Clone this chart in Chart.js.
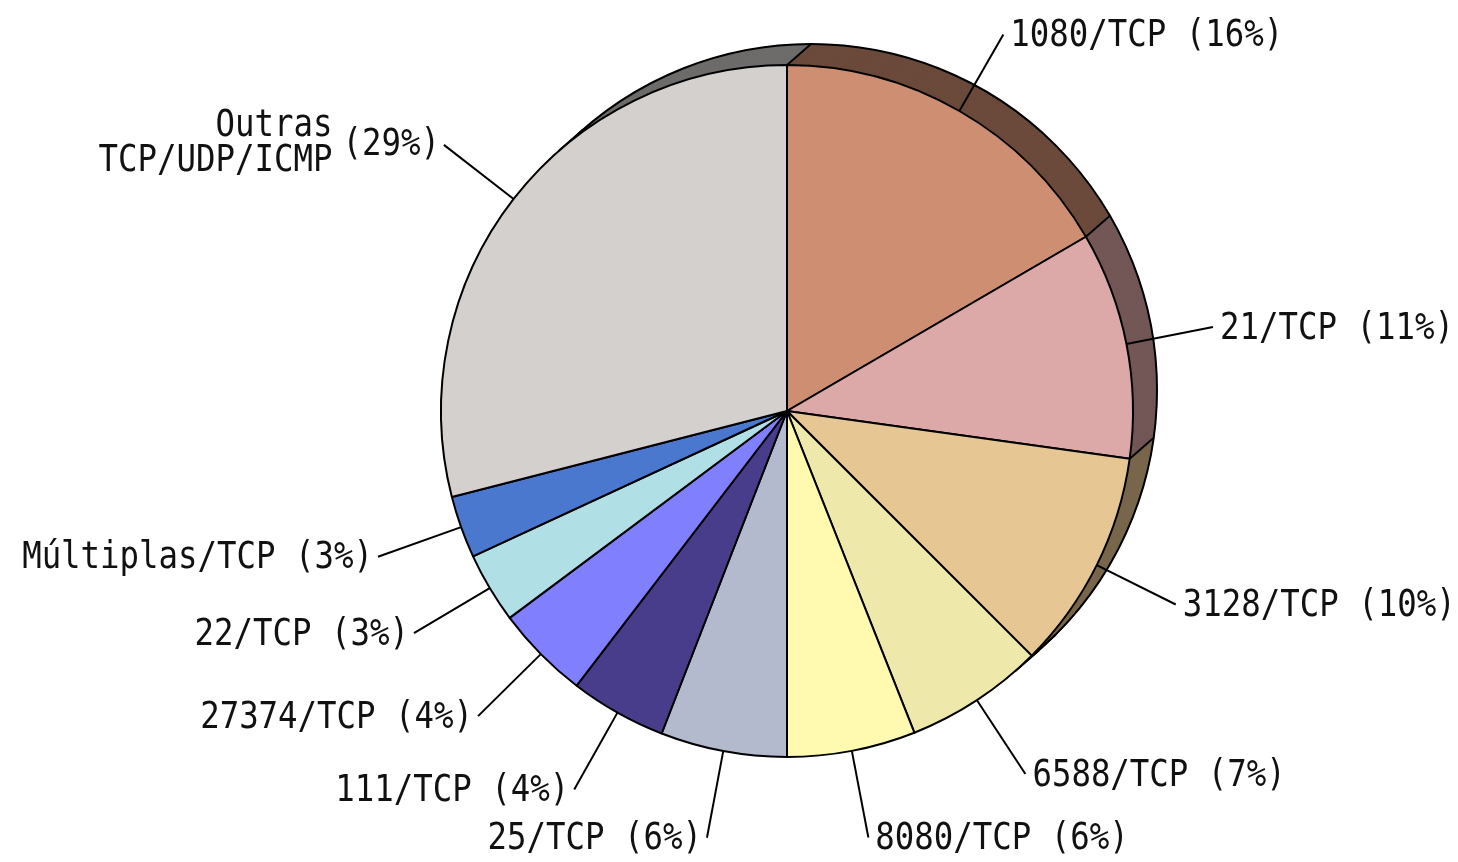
<!DOCTYPE html>
<html>
<head>
<meta charset="utf-8">
<script src="https://cdn.jsdelivr.net/npm/chart.js@4"></script>
<style>
  html, body { margin: 0; padding: 0; background: #fff; }
</style>
</head>
<body>
<canvas id="pieChart" width="1458" height="862"></canvas>
<script>
// port names (clockwise from 12 o'clock), share of each slice, printed percentages
const ports = ["1080/TCP", "21/TCP", "3128/TCP", "6588/TCP", "8080/TCP", "25/TCP",
  "111/TCP", "27374/TCP", "22/TCP", "Múltiplas/TCP", ["Outras", "TCP/UDP/ICMP"]];
const shares = [16.6, 10.6, 10.3, 6.5, 6.0, 5.9, 4.5, 4.4, 3.3, 2.9, 29.0];
const shareLabels = ["16%", "11%", "10%", "7%", "6%", "6%", "4%", "4%", "3%", "3%", "29%"];
const sliceColors = ["#CE8E72", "#DDA8A8", "#E6C793", "#EEE8AA", "#FFFAB0", "#B3BACD",
  "#483D8B", "#8080FF", "#B0E0E6", "#4A78CF", "#D3D0CE"];

// depth of the 3d rim (pixels, up and to the right)
const rimX = 24;
const rimY = -21;

function darken(hex, f) {
  const n = parseInt(hex.slice(1), 16);
  const r = Math.round(((n >> 16) & 255) * f);
  const g = Math.round(((n >> 8) & 255) * f);
  const b = Math.round((n & 255) * f);
  return "rgb(" + r + "," + g + "," + b + ")";
}
const rimColors = sliceColors.map((c) => darken(c, 0.52));

const rimPlugin = {
  id: "rim",
  beforeDatasetsDraw(chart) {
    const ctx = chart.ctx;
    const arcs = chart.getDatasetMeta(0).data;
    if (!arcs.length) return;
    const steps = 30;
    ctx.save();
    for (let k = steps; k >= 1; k--) {
      const ox = (rimX * k) / steps;
      const oy = (rimY * k) / steps;
      arcs.forEach((arc, i) => {
        ctx.beginPath();
        ctx.moveTo(arc.x + ox, arc.y + oy);
        ctx.arc(arc.x + ox, arc.y + oy, arc.outerRadius + 0.5, arc.startAngle, arc.endAngle);
        ctx.closePath();
        ctx.fillStyle = rimColors[i];
        ctx.fill();
      });
    }
    const cx = arcs[0].x;
    const cy = arcs[0].y;
    const r = arcs[0].outerRadius;
    ctx.strokeStyle = "#000";
    ctx.lineWidth = 2;
    ctx.beginPath();
    ctx.arc(cx + rimX, cy + rimY, r, 0, Math.PI * 2);
    ctx.stroke();
    // edges of the rim where slices meet
    arcs.forEach((arc) => {
      const px = cx + r * Math.cos(arc.startAngle);
      const py = cy + r * Math.sin(arc.startAngle);
      ctx.beginPath();
      ctx.moveTo(px, py);
      ctx.lineTo(px + rimX, py + rimY);
      ctx.stroke();
    });
    // silhouette lines
    const len = Math.hypot(rimX, rimY);
    const nx = -rimY / len;
    const ny = rimX / len;
    [1, -1].forEach((s) => {
      const px = cx + s * r * nx;
      const py = cy + s * r * ny;
      ctx.beginPath();
      ctx.moveTo(px, py);
      ctx.lineTo(px + rimX, py + rimY);
      ctx.stroke();
    });
    ctx.restore();
  },
};

const labelPlugin = {
  id: "sliceLabels",
  afterDatasetsDraw(chart) {
    const ctx = chart.ctx;
    const arcs = chart.getDatasetMeta(0).data;
    const sx = 0.875;
    ctx.save();
    ctx.font = "37px 'DejaVu Sans Mono'";
    ctx.fillStyle = "#111";
    ctx.strokeStyle = "#000";
    ctx.lineWidth = 2;
    ctx.textBaseline = "middle";
    arcs.forEach((arc, i) => {
      const a = (arc.startAngle + arc.endAngle) / 2;
      const r = arc.outerRadius;
      const x0 = arc.x + r * Math.cos(a);
      const y0 = arc.y + r * Math.sin(a);
      const x1 = arc.x + r * 1.255 * Math.cos(a);
      const y1 = arc.y + r * 1.255 * Math.sin(a);
      ctx.beginPath();
      ctx.moveTo(x0, y0);
      ctx.lineTo(x1, y1);
      ctx.stroke();
      const right = Math.cos(a) >= 0;
      const name = ports[i];
      const pct = "(" + shareLabels[i] + ")";
      const drawText = (t, x, y, align) => {
        ctx.save();
        ctx.translate(x, y);
        ctx.scale(sx, 1);
        ctx.textAlign = align;
        ctx.fillText(t, 0, 0);
        ctx.restore();
      };
      if (Array.isArray(name)) {
        const tx = x1 - 4;
        drawText(pct, tx, y1 + 1, "right");
        const w = ctx.measureText(pct).width * sx + 10;
        drawText(name[0], tx - w, y1 - 18, "right");
        drawText(name[1], tx - w, y1 + 17, "right");
      } else {
        const t = name + " " + pct;
        if (right) drawText(t, x1 + 7, y1 + 2, "left");
        else drawText(t, x1 - 5, y1 + 2, "right");
      }
    });
    ctx.restore();
  },
};

const ctx = document.getElementById("pieChart").getContext("2d");
const chart = new Chart(ctx, {
  type: "pie",
  data: {
    labels: ports,
    datasets: [
      {
        data: shares,
        backgroundColor: sliceColors,
        borderColor: "#000",
        borderWidth: 2,
        hoverOffset: 0,
      },
    ],
  },
  options: {
    responsive: false,
    animation: false,
    events: [],
    layout: {
      padding: { left: 440, right: 324, top: 64, bottom: 104 },
    },
    plugins: {
      legend: { display: false },
      tooltip: { enabled: false },
    },
  },
  plugins: [rimPlugin, labelPlugin],
});
</script>
</body>
</html>
